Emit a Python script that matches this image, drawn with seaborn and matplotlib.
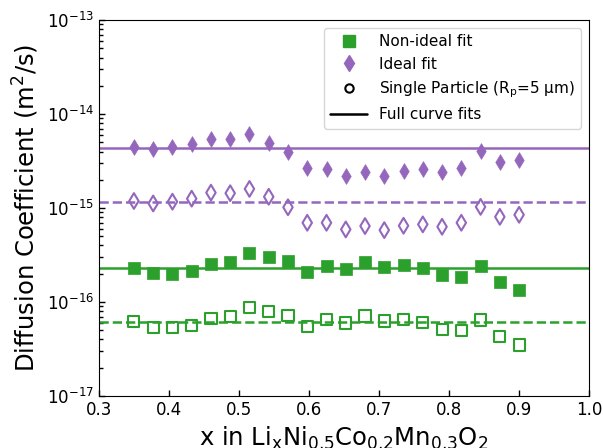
import matplotlib
matplotlib.use('Agg')
import matplotlib.pyplot as plt
from matplotlib.lines import Line2D
from matplotlib.ticker import LogLocator
import seaborn as sns
import pandas as pd

# lithium content
x_li = [0.35, 0.3775, 0.405, 0.4325, 0.46, 0.4875, 0.515, 0.5425, 0.57, 0.5975, 0.625,
        0.6525, 0.68, 0.7075, 0.735, 0.7625, 0.79, 0.8175, 0.845, 0.8725, 0.90]

# diffusion coefficients (m^2/s)
d_ideal = [4.42e-15, 4.21e-15, 4.42e-15, 4.76e-15, 5.46e-15, 5.46e-15, 6.12e-15, 4.95e-15,
           3.92e-15, 2.64e-15, 2.62e-15, 2.19e-15, 2.43e-15, 2.19e-15, 2.49e-15, 2.58e-15,
           2.40e-15, 2.64e-15, 4.04e-15, 3.11e-15, 3.24e-15]
d_ideal_sp = [1.19e-15, 1.12e-15, 1.17e-15, 1.26e-15, 1.46e-15, 1.44e-15, 1.60e-15, 1.32e-15,
              1.02e-15, 6.98e-16, 6.98e-16, 5.93e-16, 6.44e-16, 5.83e-16, 6.49e-16, 6.71e-16,
              6.33e-16, 6.98e-16, 1.03e-15, 8.07e-16, 8.49e-16]
d_nonideal = [2.32e-16, 2.02e-16, 2.00e-16, 2.14e-16, 2.52e-16, 2.67e-16, 3.30e-16, 3.03e-16,
              2.71e-16, 2.09e-16, 2.43e-16, 2.24e-16, 2.64e-16, 2.34e-16, 2.46e-16, 2.32e-16,
              1.92e-16, 1.86e-16, 2.43e-16, 1.62e-16, 1.33e-16]
d_nonideal_sp = [6.17e-17, 5.38e-17, 5.33e-17, 5.65e-17, 6.64e-17, 7.05e-17, 8.69e-17, 8.02e-17,
                 7.22e-17, 5.55e-17, 6.48e-17, 5.98e-17, 7.10e-17, 6.28e-17, 6.55e-17, 6.12e-17,
                 5.12e-17, 4.95e-17, 6.44e-17, 4.27e-17, 3.49e-17]

# full curve fits
fit_ideal = 4.38e-15
fit_ideal_sp = 1.17e-15
fit_nonideal = 2.30e-16
fit_nonideal_sp = 6.12e-17

green = '#2ca02c'
purple = '#9467bd'

sns.set_style('ticks')
plt.rcParams['font.family'] = ['DejaVu Sans']
plt.rcParams['mathtext.default'] = 'regular'
plt.rcParams['xtick.direction'] = 'in'
plt.rcParams['ytick.direction'] = 'in'
for key in ['text.color', 'axes.labelcolor', 'xtick.color', 'ytick.color', 'axes.edgecolor']:
    plt.rcParams[key] = 'black'

df = pd.DataFrame({'x': x_li, 'ideal': d_ideal, 'ideal_sp': d_ideal_sp,
                   'nonideal': d_nonideal, 'nonideal_sp': d_nonideal_sp})

fig, ax = plt.subplots(figsize=(6.03, 4.48), dpi=100)
fig.subplots_adjust(left=0.164, right=0.977, top=0.955, bottom=0.116)

ax.axhline(fit_ideal, color=purple, lw=1.8, zorder=1)
ax.axhline(fit_ideal_sp, color=purple, lw=1.8, ls='--', zorder=1)
ax.axhline(fit_nonideal, color=green, lw=1.8, zorder=1)
ax.axhline(fit_nonideal_sp, color=green, lw=1.8, ls='--', zorder=1)

sns.scatterplot(data=df, x='x', y='nonideal', marker='s', s=70, color=green,
                edgecolor=green, linewidth=0.5, ax=ax, zorder=3)
sns.scatterplot(data=df, x='x', y='ideal', marker='d', s=64, color=purple,
                edgecolor=purple, linewidth=0.5, ax=ax, zorder=3)
sns.scatterplot(data=df, x='x', y='nonideal_sp', marker='s', s=64, facecolor='none',
                edgecolor=green, linewidth=1.5, ax=ax, zorder=3)
sns.scatterplot(data=df, x='x', y='ideal_sp', marker='d', s=64, facecolor='none',
                edgecolor=purple, linewidth=1.5, ax=ax, zorder=3)

ax.set_yscale('log')
ax.set_xlim(0.3, 1.0)
ax.set_ylim(1e-17, 1e-13)
ax.yaxis.set_minor_locator(LogLocator(base=10, subs=(2, 3, 4, 5, 6, 7, 8, 9), numticks=50))
ax.tick_params(which='major', labelsize=12, length=4.5, width=1.0, direction='in')
ax.tick_params(axis='y', which='minor', length=3, width=1.0, direction='in',
               left=True, color='black')
ax.set_xlabel('x in Li$_x$Ni$_{0.5}$Co$_{0.2}$Mn$_{0.3}$O$_2$', fontsize=17.5)
ax.set_ylabel('Diffusion Coefficient (m$^2$/s)', fontsize=17.5)

handles = [
    Line2D([], [], marker='s', color=green, ls='none', markersize=8),
    Line2D([], [], marker='d', color=purple, ls='none', markersize=8),
    Line2D([], [], marker='o', mfc='none', mec='black', mew=1.5, ls='none', markersize=6),
    Line2D([], [], color='black', lw=1.8),
]
labels = ['Non-ideal fit', 'Ideal fit', 'Single Particle (R$_p$=5 µm)', 'Full curve fits']
ax.legend(handles, labels, loc='upper right', fontsize=11, frameon=True,
          handlelength=2.4)

fig.savefig('out.png', dpi=100)
